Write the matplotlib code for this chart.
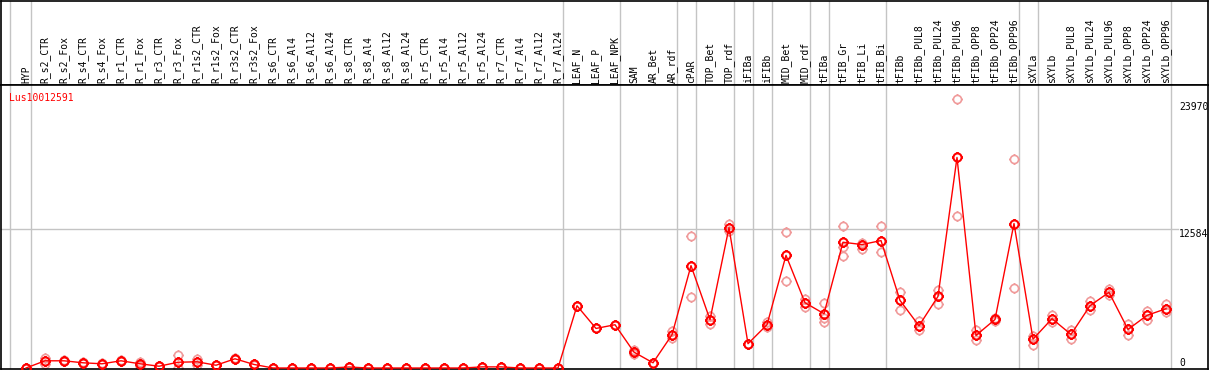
import numpy as np
import matplotlib
matplotlib.use("Agg")
import matplotlib.pyplot as plt
from matplotlib.path import Path

# --- dados ---
gene = "Lus10012591"

categories = [
    "HYP", "R_s2_CTR", "R_s2_Fox", "R_s4_CTR", "R_s4_Fox", "R_r1_CTR", "R_r1_Fox",
    "R_r3_CTR", "R_r3_Fox", "R_r1s2_CTR", "R_r1s2_Fox", "R_r3s2_CTR", "R_r3s2_Fox",
    "R_s6_CTR", "R_s6_Al4", "R_s6_Al12", "R_s6_Al24", "R_s8_CTR", "R_s8_Al4",
    "R_s8_Al12", "R_s8_Al24", "R_r5_CTR", "R_r5_Al4", "R_r5_Al12", "R_r5_Al24",
    "R_r7_CTR", "R_r7_Al4", "R_r7_Al12", "R_r7_Al24", "LEAF_N", "LEAF_P", "LEAF_NPK",
    "SAM", "AR_Bet", "AR_rdf", "cPAR", "TOP_Bet", "TOP_rdf", "iFIBa", "iFIBb",
    "MID_Bet", "MID_rdf", "tFIBa", "tFIB_Gr", "tFIB_Li", "tFIB_Bi", "tFIBb",
    "tFIBb_PUL8", "tFIBb_PUL24", "tFIBb_PUL96", "tFIBb_OPP8", "tFIBb_OPP24",
    "tFIBb_OPP96", "sXYLa", "sXYLb", "sXYLb_PUL8", "sXYLb_PUL24", "sXYLb_PUL96",
    "sXYLb_OPP8", "sXYLb_OPP24", "sXYLb_OPP96",
]

means = [
    0, 650, 650, 470, 380, 650, 380, 160, 520, 560, 250, 830, 320,
    0, 0, 0, 0, 90, 0, 0, 0, 0, 0, 0, 100, 100, 0, 0, 0,
    5620, 3570, 3905, 1430, 470, 3000, 9240, 4360, 12670, 2190, 3905,
    10170, 5890, 4900, 11350, 11140, 11500, 6100, 3810, 6460, 19000,
    2940, 4380, 13040, 2600, 4450, 3030, 5620, 6830, 3480, 4750, 5350,
]

replicates = [
    [0, 0], [920, 380], [700, 600], [520, 420], [420, 340], [690, 610],
    [560, 200], [180, 140], [1190, 0], [780, 250], [270, 230], [860, 800],
    [340, 300],
    [0, 0], [0, 0], [0, 0], [0, 0], [90, 90], [0, 0], [0, 0], [0, 0],
    [0, 0], [0, 0], [0, 0], [100, 100], [100, 100], [0, 0], [0, 0], [0, 0],
    [5620], [3570], [3905], [1580, 1280], [470], [3330, 2690],
    [11950, 6400], [4660, 3930], [12970, 12370], [2190], [4110, 3690],
    [12310, 7880], [6190, 5500], [5830, 4540, 4180], [12860, 10140, 10920],
    [11280, 10770], [12860, 10500], [6890, 5200], [4230, 3450], [7070, 5800],
    [24300, 13700], [3390, 2550], [4500, 4250], [18820, 7250], [2850, 2120],
    [4770, 4110], [3420, 2600], [6040, 5200], [7120, 6550], [3960, 2940],
    [5130, 4290], [5770, 5040],
]

# fim de cada grupo (índice da última categoria do grupo)
group_ends = [0, 28, 31, 34, 35, 37, 38, 39, 41, 42, 45, 52, 53, 60]
axis_labels = [23970, 12584, 0]

# --- layout ---
W, H = 1209, 370
FONT = dict(family="DejaVu Sans Mono", size=7)
GRAY = "#c4c4c4"
PINK = "#f09a9a"

fig = plt.figure(figsize=(W / 100, H / 100), dpi=100)
xlim = (-25 / 19, (1208 - 26) / 19)

ax_lab = fig.add_axes([1 / W, 285 / H, 1207 / W, 84.5 / H])
ax = fig.add_axes([1 / W, 1.5 / H, 1207 / W, 283.5 / H])

for a in (ax_lab, ax):
    a.set_xlim(*xlim)
    a.set_xticks([])
    a.set_yticks([])
    for s in a.spines.values():
        s.set_color("black")
        s.set_linewidth(1.2)
    a.axvline(-0.84, color=GRAY, lw=1, zorder=0)
    for g in group_ends:
        a.axvline(g + 0.24, color=GRAY, lw=1, zorder=0)

ax_lab.set_ylim(85, 0)
x = np.arange(len(categories))
for i, name in enumerate(categories):
    ax_lab.text(i, 83, name, rotation=90, rotation_mode="anchor",
                ha="left", va="center", **FONT)

ax.set_ylim(-45, 25540)
ax.axhline(12584, xmin=0, xmax=(1178 - 1) / 1207, color=GRAY, lw=1, zorder=0)

# marcador: círculo com pequenos traços
circle = Path.unit_circle()
ticks = Path([(0, 1), (0, 1.3), (0, -1), (0, -1.3), (1, 0), (1.3, 0), (-1, 0), (-1.3, 0)],
             [Path.MOVETO, Path.LINETO] * 4)
marker = Path.make_compound_path(circle, ticks)

rx = [i for i, r in enumerate(replicates) for _ in r]
ry = [v for r in replicates for v in r]
ax.plot(rx, ry, ls="none", marker=marker, ms=7.6, mfc="none", mec=PINK, mew=1.2, zorder=2)
ax.plot(x, means, color="red", lw=1, marker=marker, ms=7.6, mfc="none",
        mec="red", mew=1.5, zorder=3)

lx = (1179 - 26) / 19
ax.text(lx, axis_labels[0], str(axis_labels[0]), ha="left", va="top", **FONT)
ax.text(lx, axis_labels[1], str(axis_labels[1]), ha="left", va="top", **FONT)
ax.text(lx, axis_labels[2], str(axis_labels[2]), ha="left", va="bottom", **FONT)

fig.text(9 / W, 1 - 98 / H, gene, color="red", ha="left", va="center", **FONT)

fig.savefig("out.png", dpi=100)
